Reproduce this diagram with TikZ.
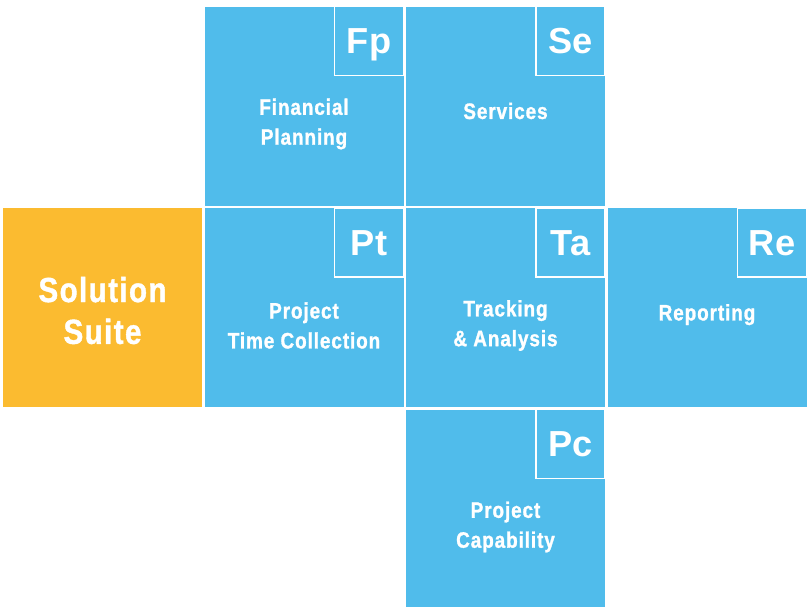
\documentclass[tikz,border=0pt]{standalone}
\usepackage{fontspec}
\setmainfont{Liberation Sans}
\newfontfamily\condfont{Liberation Sans}[FakeStretch=0.85,LetterSpace=4,FakeBold=1.2]
\usepackage{tikz}
\usetikzlibrary{positioning}

\definecolor{tileblue}{RGB}{80,188,235}
\definecolor{suiteorange}{RGB}{251,187,48}

\tikzset{
  tile/.style={fill=tileblue, minimum size=3.98cm, inner sep=0pt, outer sep=0pt},
  suite/.style={tile, fill=suiteorange},
  corner/.style={draw=white, line width=1.1pt, minimum size=1.38cm, inner sep=0pt,
                 text height=14.7pt, text depth=0pt,
                 anchor=north east, text=white, font=\bfseries\fontsize{20.6}{22}\selectfont},
  caption/.style={text=white, align=center, font=\condfont\bfseries\fontsize{12.7}{17}\selectfont},
  bigcaption/.style={caption, font=\condfont\bfseries\fontsize{19.8}{23.8}\selectfont}
}

\begin{document}
\begin{tikzpicture}[node distance=4.03cm,on grid]
	\useasboundingbox (0,0) rectangle (16.14,-12.12);
	% tiles
	\node[suite] (ss) at (2.05,-6.15) {};
	\node[tile] (pt) [right=of ss] {};
	\node[tile] (ta) [right=of pt] {};
	\node[tile] (re) [right=of ta] {};
	\node[tile] (fp) [above=of pt] {};
	\node[tile] (se) [above=of ta] {};
	\node[tile] (pc) [below=of ta] {};
	% corner tags
	\node[corner] (fptag) at ([shift={(0.55pt,0.55pt)}]fp.north east) {Fp};
	\node[corner] (setag) at ([shift={(0.55pt,0.55pt)}]se.north east) {Se};
	\node[corner] (pttag) at ([shift={(0.55pt,0.55pt)}]pt.north east) {Pt};
	\node[corner] (tatag) at ([shift={(0.55pt,0.55pt)}]ta.north east) {Ta};
	\node[corner] (retag) at ([shift={(0.55pt,0.55pt)}]re.north east) {Re};
	\node[corner] (pctag) at ([shift={(0.55pt,0.55pt)}]pc.north east) {Pc};
	% captions
	\node[bigcaption] (sstext) at ([yshift=-0.06cm]ss.center) {Solution\\Suite};
	\node[caption] (fptext) at ([yshift=-0.36cm]fp.center) {Financial\\Planning};
	\node[caption] (setext) at ([yshift=-0.1cm]se.center) {Services};
	\node[caption] (pttext) at ([yshift=-0.36cm]pt.center) {Project\\Time Collection};
	\node[caption] (tatext) at ([yshift=-0.36cm]ta.center) {Tracking\\\& Analysis};
	\node[caption, text height=9pt, text depth=0pt] (retext) at ([yshift=-0.1cm]re.center) {Reporting};
	\node[caption] (pctext) at ([yshift=-0.36cm]pc.center) {Project\\Capability};
\end{tikzpicture}
\end{document}
